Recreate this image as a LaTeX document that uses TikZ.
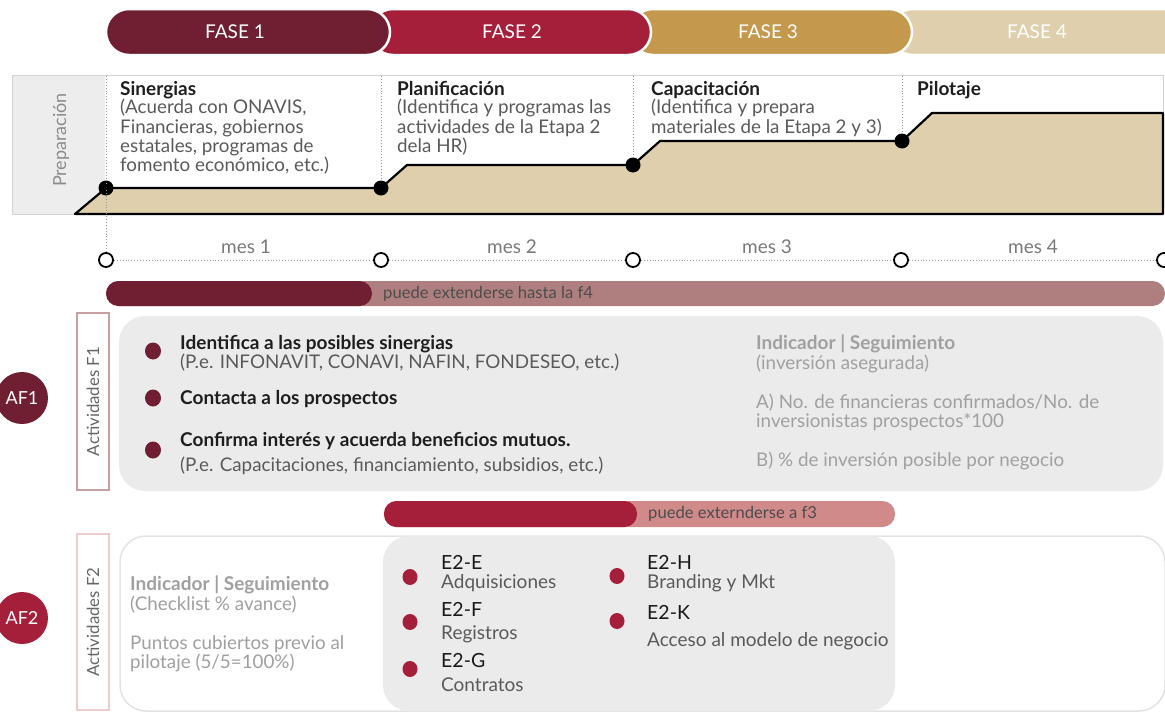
\documentclass[tikz,border=0pt]{standalone}
\usepackage{fontspec}
\setmainfont{Lato}
\definecolor{maroon}{HTML}{6F1F31}
\definecolor{crimson}{HTML}{A51F3A}
\definecolor{gold}{HTML}{C4994E}
\definecolor{beige}{HTML}{DFCFAD}
\definecolor{barlightA}{HTML}{AF7F80}
\definecolor{barlightB}{HTML}{D08A8A}
\definecolor{panelgray}{HTML}{EBEBEB}
\definecolor{prepgray}{HTML}{EDEDED}
\definecolor{pinkline}{HTML}{C9A0A2}
\definecolor{titlecol}{HTML}{1E1E1E}
\definecolor{desccol}{HTML}{5A5A5A}
\definecolor{indcol}{HTML}{A0A0A0}
\begin{document}
\begin{tikzpicture}[x=1pt,y=-1pt,
  phase/.style={white, line width=2.5pt, rounded corners=23pt},
  phasetxt/.style={text=white, font=\fontsize{19}{22}\selectfont, inner sep=0pt},
  ttl/.style={text=titlecol, font=\fontsize{19}{19.3}\selectfont\bfseries, inner sep=0pt, anchor=base west},
  desc/.style={text=desccol, font=\fontsize{18.8}{19.4}\selectfont, inner sep=0pt, anchor=north west, align=left},
  vdot/.style={draw=gray!80, dotted, line width=0.9pt},
  tcirc/.style={circle, draw=black, fill=white, line width=1.8pt, minimum size=14pt, inner sep=0pt},
  mes/.style={text=gray!95!black, font=\fontsize{19}{20}\selectfont, inner sep=0pt, anchor=base},
  barlbl/.style={text=black!70, font=\fontsize{16.6}{18}\selectfont, inner sep=0pt, anchor=west},
  actbox/.style={draw=pinkline, line width=1.8pt, fill=white, rotate=90, minimum height=32pt, inner sep=0pt, text=black!60, font=\fontsize{16.8}{18}\selectfont},
  afc/.style={circle, minimum size=52pt, inner sep=0pt, text=white, font=\fontsize{18}{20}\selectfont},
  itm/.style={text=titlecol, font=\fontsize{19}{19.3}\selectfont\bfseries, inner sep=0pt, anchor=base west},
  sub/.style={text=desccol, font=\fontsize{18.8}{19}\selectfont, inner sep=0pt, anchor=base west},
  ind/.style={text=indcol, font=\fontsize{18.8}{19.3}\selectfont, inner sep=0pt, anchor=base west},
  indb/.style={text=indcol, font=\fontsize{19}{19.3}\selectfont\bfseries, inner sep=0pt, anchor=base west},
  ecode/.style={text=black!90, font=\fontsize{19.5}{19.3}\selectfont, inner sep=0pt, anchor=base west},
  ename/.style={text=desccol, font=\fontsize{19}{19.3}\selectfont, inner sep=0pt, anchor=base west}
]
\useasboundingbox (0,0) rectangle (1165,712);

% ---------- phase bar ----------
\draw[phase, fill=beige] (890,9) rectangle (1200,55);
\draw[phase, fill=gold] (630,9) rectangle (912,55);
\draw[phase, fill=crimson] (370,9) rectangle (651,55);
\draw[phase, fill=maroon] (106,9) rectangle (390,55);
\node[phasetxt] (f1) at (235,32) {FASE 1};
\node[phasetxt] (f2) at (512,32) {FASE 2};
\node[phasetxt] (f3) at (768,32) {FASE 3};
\node[phasetxt] (f4) at (1037,32) {FASE 4};

% ---------- preparation panel ----------
\fill[prepgray] (12,75) rectangle (105,214);
\draw[draw=gray!35, line width=1pt] (12,75) rectangle (1163,214);
\node[rotate=90, text=gray!90, font=\fontsize{18}{20}\selectfont, inner sep=0pt] (prep) at (61,140) {Preparación};
\draw[black, line width=2.2pt, fill=beige, line join=round]
  (75,214) -- (106,188) -- (381,188) -- (407,165) -- (633,165) -- (660,141)
  -- (902,141) -- (932,113) -- (1163,113) -- (1163,214) -- cycle;
\fill (106,188) circle (7.5pt);
\fill (381,188) circle (7.5pt);
\fill (633,165) circle (7.5pt);
\fill (902,141) circle (7.5pt);

% timeline nodes
\node[tcirc] (t0) at (106,260) {};
\node[tcirc] (t1) at (381,260) {};
\node[tcirc] (t2) at (633,260) {};
\node[tcirc] (t3) at (901,260) {};
\node[tcirc] (t4) at (1164,260) {};
\draw[vdot] (t0) -- (t1);
\draw[vdot] (t1) -- (t2);
\draw[vdot] (t2) -- (t3);
\draw[vdot] (t3) -- (t4);
\draw[vdot] (106,76) -- (106,186);
\draw[vdot] (106,190) -- (t0.north);
\draw[vdot] (381,76) -- (381,181);
\draw[vdot] (633,76) -- (633,158);
\draw[vdot] (902,76) -- (902,134);
\node[mes] (m1) at (246,253) {mes 1};
\node[mes] (m2) at (512,253) {mes 2};
\node[mes] (m3) at (767,253) {mes 3};
\node[mes] (m4) at (1033,253) {mes 4};

% stage texts
\node[ttl] (s1) at (120,95) {Sinergias};
\node[desc] (s1d) at (120,99) {(Acuerda con ONAVIS,\\Financieras, gobiernos\\estatales, programas de\\fomento económico, etc.)};
\node[ttl] (s2) at (397,95) {Planificación};
\node[desc] (s2d) at (397,99) {(Identifica y programas las\\actividades de la Etapa 2\\dela HR)};
\node[ttl] (s3) at (651,95) {Capacitación};
\node[desc] (s3d) at (651,99) {(Identifica y prepara\\materiales de la Etapa 2 y 3)};
\node[ttl] (s4) at (917,95) {Pilotaje};

% ---------- bar 1 ----------
\fill[barlightA, rounded corners=12.5pt] (106,281) rectangle (1165,306);
\fill[maroon, rounded corners=12.5pt] (106,281) rectangle (372,306);
\node[barlbl] (b1) at (383,294) {puede extenderse hasta la f4};

% ---------- AF1 ----------
\fill[panelgray, rounded corners=26pt] (119,316) rectangle (1163,491);
\node[actbox, minimum width=177pt] (a1) at (93,401.5) {Actividades F1};
\node[afc, fill=maroon] (af1) at (22,398) {AF1};
\fill[maroon] (153,351) ellipse (8pt and 8.5pt);
\fill[maroon] (153,398) ellipse (8pt and 8.5pt);
\fill[maroon] (153,450) ellipse (8pt and 8.5pt);
\node[itm] (i1) at (180,349.5) {Identifica a las posibles sinergias};
\node[sub] (i1s) at (180,368.5) {(P.e. INFONAVIT, CONAVI, NAFIN, FONDESEO, etc.)};
\node[itm] (i2) at (180,404.5) {Contacta a los prospectos};
\node[itm] (i3) at (180,446.5) {Confirma interés y acuerda beneficios mutuos.};
\node[sub] (i3s) at (180,471.5) {(P.e. Capacitaciones, financiamiento, subsidios, etc.)};
\node[indb] (k1) at (756,349.5) {Indicador | Seguimiento};
\node[ind] (k1a) at (756,369.5) {(inversión asegurada)};
\node[ind] (k1b) at (756,408.5) {A) No. de financieras confirmados/No. de};
\node[ind] (k1c) at (756,427.5) {inversionistas prospectos*100};
\node[ind] (k1d) at (756,466.5) {B) \% de inversión posible por negocio};

% ---------- bar 2 ----------
\fill[barlightB, rounded corners=12.5pt] (384,501) rectangle (895,527);
\fill[crimson, rounded corners=12.5pt] (384,501) rectangle (637,527);
\node[barlbl] (b2) at (648,514) {puede externderse a f3};

% ---------- AF2 ----------
\draw[draw=gray!22, line width=1.5pt, fill=white, rounded corners=26pt] (120,536) rectangle (1165,711);
\fill[panelgray, rounded corners=26pt] (383,536) rectangle (895,711);
\node[actbox, draw=pinkline!80!red!40, minimum width=176pt] (a2) at (93,622) {Actividades F2};
\node[afc, fill=crimson] (af2) at (22,618) {AF2};
\node[indb] (k2) at (130,590.5) {Indicador | Seguimiento};
\node[ind] (k2a) at (130,610.5) {(Checklist \% avance)};
\node[ind] (k2b) at (130,649.5) {Puntos cubiertos previo al};
\node[ind] (k2c) at (130,668.5) {pilotaje (5/5=100\%)};

\fill[crimson] (410,577) ellipse (7.5pt and 8pt);
\fill[crimson] (410,622) ellipse (7.5pt and 8pt);
\fill[crimson] (410,669) ellipse (7.5pt and 8pt);
\fill[crimson] (617,576) ellipse (7.5pt and 8pt);
\fill[crimson] (617,621) ellipse (7.5pt and 8pt);
\node[ecode] (e1) at (441,569.5) {E2-E};
\node[ename] (e1n) at (441,588.5) {Adquisiciones};
\node[ecode] (e2) at (441,616.5) {E2-F};
\node[ename] (e2n) at (441,639.5) {Registros};
\node[ecode] (e3) at (441,667.5) {E2-G};
\node[ename] (e3n) at (441,691.5) {Contratos};
\node[ecode] (e4) at (647,569.5) {E2-H};
\node[ename] (e4n) at (647,588.5) {Branding y Mkt};
\node[ecode] (e5) at (647,619.5) {E2-K};
\node[ename] (e5n) at (647,646.5) {Acceso al modelo de negocio};
\end{tikzpicture}
\end{document}
